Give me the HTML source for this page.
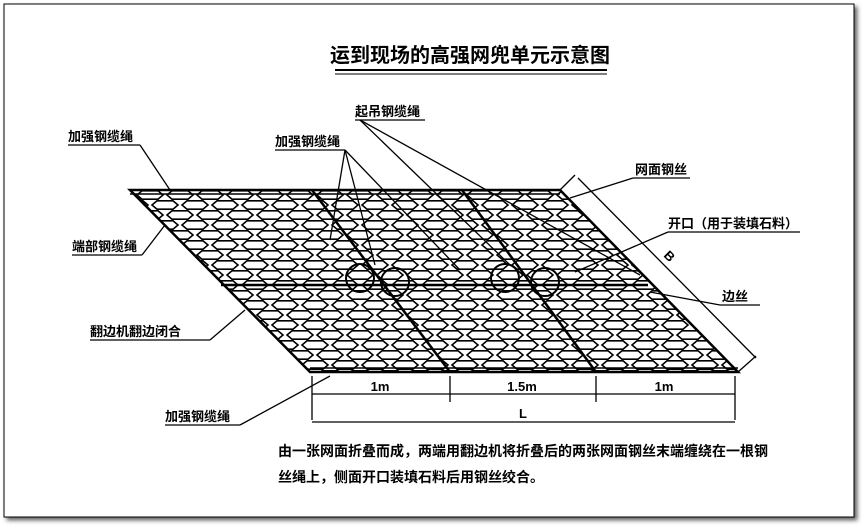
<!DOCTYPE html>
<html><head><meta charset="utf-8"><style>
body{margin:0;background:#fff;width:866px;height:528px;overflow:hidden}
svg{display:block}
text{font-family:"Liberation Sans","Noto Sans CJK SC",sans-serif;font-weight:bold;fill:#000}
</style></head><body>
<svg width="866" height="528" viewBox="0 0 866 528">
<defs>
<pattern id="mesh" width="30" height="20" patternUnits="userSpaceOnUse">
<path d="M2,5 L7,0.8 L23,0.8 L28,5 L23,9.2 L7,9.2 Z M17,15 L22,10.8 L38,10.8 L43,15 L38,19.2 L22,19.2 Z M-13,15 L-8,10.8 L8,10.8 L13,15 L8,19.2 L-8,19.2 Z" fill="none" stroke="#000" stroke-width="1.6"/>
</pattern>
<clipPath id="cp"><polygon points="130,190 560,190 738,372 310,372"/></clipPath>
<filter id="sh"><feDropShadow dx="3" dy="3" stdDeviation="2" flood-color="#666"/></filter>
</defs>
<rect x="4" y="4" width="850" height="513" fill="#fff" stroke="#000" stroke-width="1" filter="url(#sh)"/>
<text x="470" y="62" font-size="20" text-anchor="middle">运到现场的高强网兜单元示意图</text>
<line x1="335" y1="70" x2="607" y2="70" stroke="#000" stroke-width="2"/>
<line x1="335" y1="74" x2="607" y2="74" stroke="#000" stroke-width="1"/>
<rect x="120" y="180" width="640" height="200" fill="url(#mesh)" clip-path="url(#cp)"/>
<g stroke="#000" fill="none" stroke-width="2.5">
<polygon points="130,190 560,190 738,372 310,372"/>
<line x1="130" y1="194" x2="560" y2="194" stroke-width="1.5"/>
<line x1="310" y1="368" x2="738" y2="368" stroke-width="1.5"/>
<line x1="221" y1="285" x2="648" y2="285"/>
<line x1="312" y1="190" x2="450" y2="372"/>
<line x1="462" y1="190" x2="596" y2="372"/>
<circle cx="360" cy="278" r="14" stroke-width="2"/><circle cx="395" cy="282" r="14" stroke-width="2"/>
<circle cx="505" cy="278" r="14" stroke-width="2"/><circle cx="545" cy="282" r="14" stroke-width="2"/>
</g>
<g stroke="#000" stroke-width="1.3" fill="none">
<line x1="68" y1="145" x2="140" y2="145"/><line x1="140" y1="145" x2="170" y2="190"/>
<line x1="72" y1="255" x2="142" y2="255"/><line x1="142" y1="255" x2="165" y2="225"/>
<line x1="90" y1="340" x2="210" y2="340"/><line x1="210" y1="340" x2="245" y2="310"/>
<line x1="165" y1="425" x2="240" y2="425"/><line x1="240" y1="425" x2="330" y2="376"/>
<line x1="275" y1="150" x2="345" y2="150"/><line x1="345" y1="150" x2="375" y2="265"/><line x1="345" y1="150" x2="460" y2="270"/><line x1="345" y1="150" x2="330" y2="240"/>
<line x1="355" y1="120" x2="425" y2="120"/><line x1="360" y1="120" x2="510" y2="265"/><line x1="360" y1="120" x2="640" y2="275"/>
<line x1="633" y1="178" x2="690" y2="178"/><line x1="633" y1="178" x2="570" y2="198"/>
<line x1="668" y1="232" x2="800" y2="232"/><line x1="668" y1="232" x2="575" y2="272"/>
<line x1="720" y1="305" x2="760" y2="305"/><line x1="720" y1="305" x2="650" y2="292"/>
<line x1="578" y1="178" x2="756" y2="358"/><line x1="560" y1="190" x2="575" y2="175"/><line x1="738" y1="372" x2="756" y2="356"/>
<line x1="312" y1="376" x2="312" y2="420"/><line x1="450" y1="376" x2="450" y2="402"/><line x1="596" y1="376" x2="596" y2="402"/><line x1="735" y1="376" x2="735" y2="420"/>
<line x1="312" y1="394" x2="735" y2="394"/><line x1="312" y1="422" x2="735" y2="422"/>
</g>
<g font-size="13">
<text x="68" y="141">加强钢缆绳</text>
<text x="72" y="251">端部钢缆绳</text>
<text x="90" y="336">翻边机翻边闭合</text>
<text x="165" y="421">加强钢缆绳</text>
<text x="275" y="146">加强钢缆绳</text>
<text x="355" y="116">起吊钢缆绳</text>
<text x="635" y="174">网面钢丝</text>
<text x="668" y="228">开口（用于装填石料）</text>
<text x="722" y="301">边丝</text>
<text x="663" y="256" transform="rotate(45 663 256)">B</text>
<text x="380" y="391" text-anchor="middle">1m</text>
<text x="522" y="391" text-anchor="middle">1.5m</text>
<text x="664" y="391" text-anchor="middle">1m</text>
<text x="523" y="418" text-anchor="middle">L</text>
<text x="278" y="456" font-size="14">由一张网面折叠而成，两端用翻边机将折叠后的两张网面钢丝末端缠绕在一根钢</text>
<text x="278" y="482" font-size="14">丝绳上，侧面开口装填石料后用钢丝绞合。</text>
</g>
</svg>
</body></html>
